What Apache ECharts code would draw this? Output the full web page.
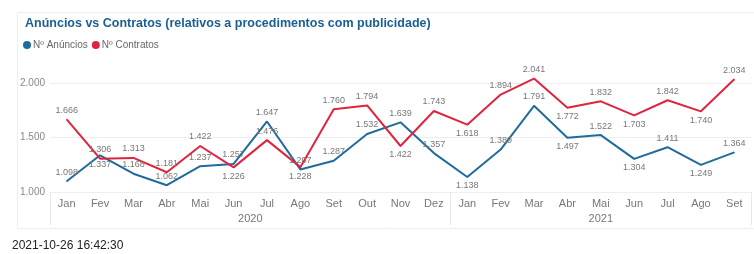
<!DOCTYPE html>
<html>
<head>
<meta charset="utf-8">
<script src="https://cdn.jsdelivr.net/npm/echarts@6/dist/echarts.min.js"></script>
<style>
  html, body { margin: 0; padding: 0; background: #fff; }
  #chart { width: 754px; height: 254px; }
</style>
</head>
<body>
<div id="chart"></div>
<script>
const months = ['Jan', 'Fev', 'Mar', 'Abr', 'Mai', 'Jun', 'Jul', 'Ago', 'Set', 'Out', 'Nov', 'Dez',
  'Jan', 'Fev', 'Mar', 'Abr', 'Mai', 'Jun', 'Jul', 'Ago', 'Set'];
const years = [{ name: '2020', center: 6 }, { name: '2021', center: 16.5 }];
const anuncios = [1098, 1337, 1168, 1062, 1237, 1257, 1647, 1207, 1287, 1532, 1639, 1357,
  1138, 1389, 1791, 1497, 1522, 1304, 1411, 1249, 1364];
const contratos = [1666, 1306, 1313, 1181, 1422, 1226, 1476, 1228, 1760, 1794, 1422, 1743,
  1618, 1894, 2041, 1772, 1832, 1703, 1842, 1740, 2034];

// label side per point (t = above, b = below), 2020 then 2021
const anunciosLabelSide = 'tbtttttttttt' + 'bttbtbtbt';
const contratosLabelSide = 'tttttbtbttbt' + 'bttbtbtbt';

const blue = '#1f6c9c';
const red = '#e0243f';

function withLabels(values, sides) {
  return values.map((v, i) => ({
    value: v,
    label: { position: sides[i] === 'b' ? 'bottom' : 'top' }
  }));
}

const fmt = v => (v / 1000).toFixed(3);

const chart = echarts.init(document.getElementById('chart'));
chart.setOption({
  animation: false,
  title: {
    text: 'Anúncios vs Contratos (relativos a procedimentos com publicidade)',
    left: 20,
    top: 12,
    textStyle: { color: '#1a5f92', fontSize: 12.5, fontWeight: 'bold', fontFamily: 'Liberation Sans' }
  },
  legend: {
    data: ['Nº Anúncios', 'Nº Contratos'],
    left: 18,
    top: 35,
    icon: 'circle',
    itemWidth: 8,
    itemHeight: 8,
    itemGap: 4,
    textStyle: { color: '#666', fontSize: 10, fontFamily: 'Liberation Sans', padding: [0, 0, 0, -3] }
  },
  graphic: [
    {
      type: 'rect',
      shape: { x: 17.5, y: 12.5, width: 800, height: 216 },
      style: { fill: 'none', stroke: '#eeeeee', lineWidth: 1 },
      silent: true
    },
    {
      type: 'text',
      left: 12,
      top: 240,
      style: { text: '2021-10-26 16:42:30', fill: '#222', fontSize: 12, fontFamily: 'Liberation Sans' }
    }
  ],
  grid: { left: 50, top: 83, width: 714, height: 109 },
  xAxis: [
    {
      type: 'category',
      data: months,
      boundaryGap: true,
      axisLine: { show: false },
      axisTick: {
        show: true,
        length: 33,
        interval: (index) => index === 0 || index === 12,
        lineStyle: { color: '#e8e8e8' }
      },
      axisLabel: { color: '#777', fontSize: 11, margin: 6, interval: 0, fontFamily: 'Liberation Sans' }
    },
    {
      type: 'value',
      position: 'bottom',
      min: 0,
      max: months.length,
      interval: 0.5,
      axisLine: { show: false },
      axisTick: { show: false },
      splitLine: { show: false },
      axisLabel: {
        color: '#777',
        fontSize: 11,
        margin: 21,
        fontFamily: 'Liberation Sans',
        formatter: (v) => {
          const y = years.find(item => item.center === v);
          return y ? y.name : '';
        }
      }
    }
  ],
  yAxis: {
    type: 'value',
    min: 1000,
    max: 2000,
    interval: 500,
    axisLine: { show: false },
    axisTick: { show: false },
    splitLine: { lineStyle: { color: '#eeeeee' } },
    axisLabel: { color: '#888', fontSize: 10, margin: 5, fontFamily: 'Liberation Sans', formatter: v => fmt(v) }
  },
  series: [
    {
      name: 'Nº Anúncios',
      type: 'line',
      clip: false,
      symbol: 'circle',
      symbolSize: 1,
      color: blue,
      lineStyle: { width: 2, color: blue },
      label: { show: true, color: '#777', fontSize: 9, distance: 4, fontFamily: 'Liberation Sans', formatter: p => fmt(p.value) },
      data: withLabels(anuncios, anunciosLabelSide)
    },
    {
      name: 'Nº Contratos',
      type: 'line',
      clip: false,
      symbol: 'circle',
      symbolSize: 1,
      color: red,
      lineStyle: { width: 2, color: red },
      label: { show: true, color: '#777', fontSize: 9, distance: 4, fontFamily: 'Liberation Sans', formatter: p => fmt(p.value) },
      data: withLabels(contratos, contratosLabelSide)
    }
  ]
});
</script>
</body>
</html>
